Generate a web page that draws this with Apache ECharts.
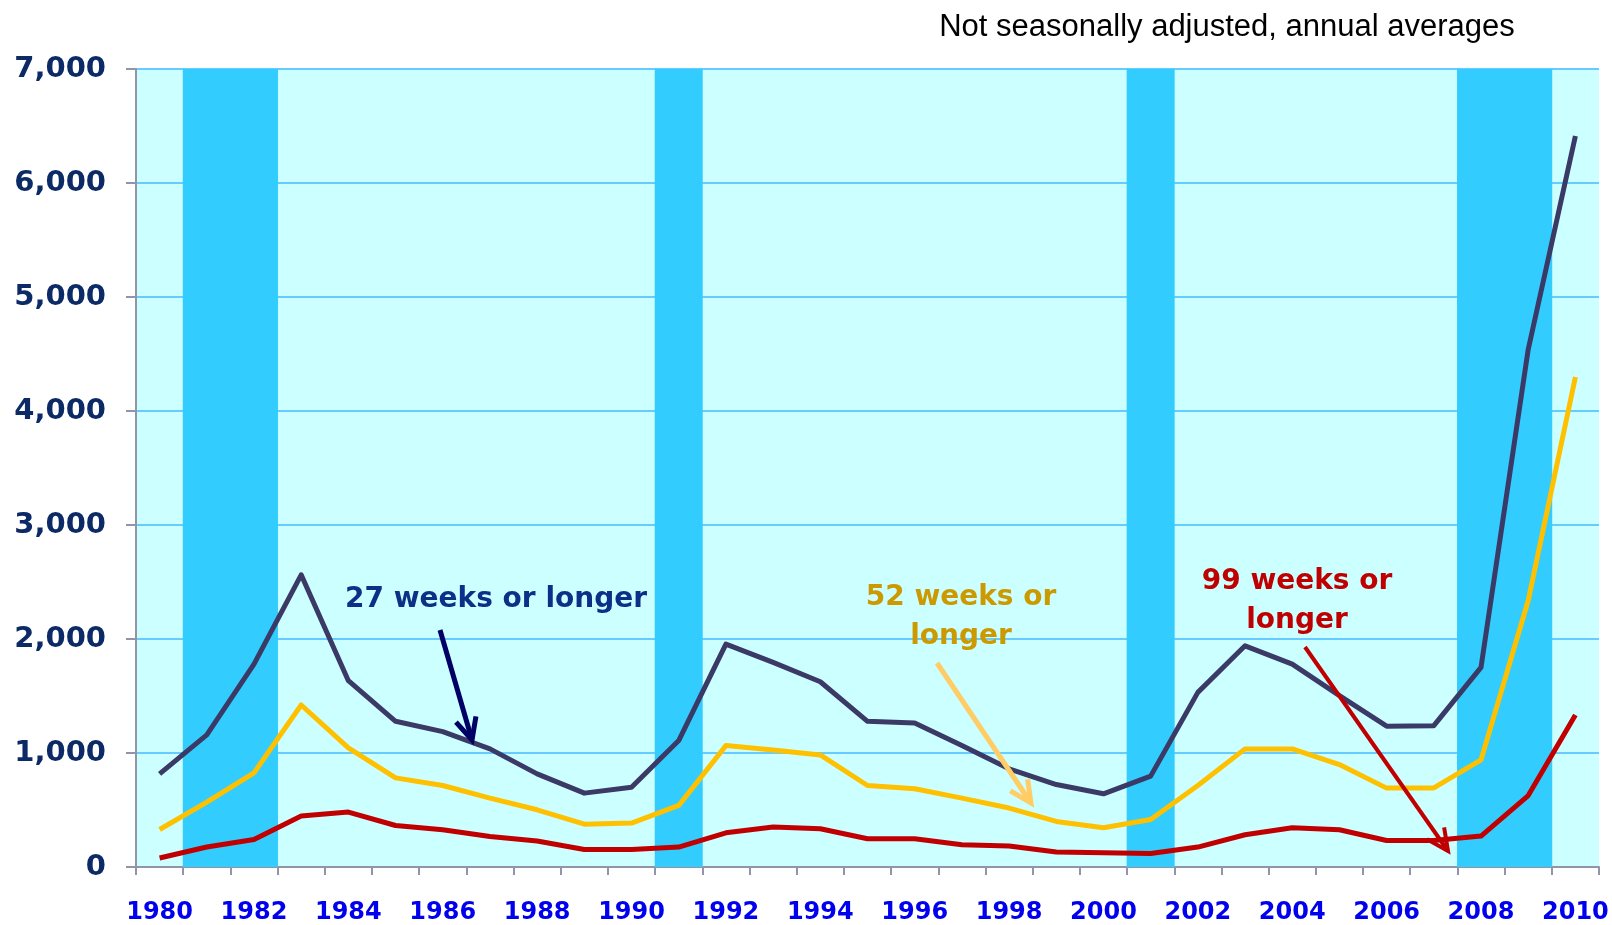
<!DOCTYPE html>
<html>
<head>
<meta charset="utf-8">
<script src="https://cdn.jsdelivr.net/npm/echarts@6/dist/echarts.min.js"></script>
<style>
  html, body { margin: 0; padding: 0; background: #ffffff; }
  #chart { width: 1612px; height: 925px; }
</style>
</head>
<body>
<div id="chart"></div>
<script>
// ---- Data ----
const years = ['1980','1981','1982','1983','1984','1985','1986','1987','1988','1989',
               '1990','1991','1992','1993','1994','1995','1996','1997','1998','1999',
               '2000','2001','2002','2003','2004','2005','2006','2007','2008','2009','2010'];

const weeks27 = [817,1159,1780,2563,1634,1278,1188,1036,817,648,
                 700,1109,1955,1795,1625,1278,1264,1065,861,723,
                 642,797,1532,1940,1780,1503,1235,1240,1751,4540,6413];

const weeks52 = [329,569,826,1421,1045,782,715,604,502,376,
                 385,540,1065,1027,983,715,686,604,517,400,
                 344,417,715,1036,1036,899,692,694,940,2338,4299];

const weeks99 = [79,175,242,447,482,364,327,268,228,154,
                 154,175,300,350,335,248,248,195,184,131,
                 125,119,175,283,344,327,233,233,271,627,1334];

const recessionYears = ['1981','1982','1991','2001','2008','2009'];

const yTickLabels = ['0','1,000','2,000','3,000','4,000','5,000','6,000','7,000'];
const yMax = 7000;

const subtitle = 'Not seasonally adjusted, annual averages';

// ---- Annotation helpers (pixel-space annotations) ----
function arrow(x1, y1, x2, y2, color, width) {
  const ang = Math.atan2(y2 - y1, x2 - x1);
  const len = 24, spread = Math.PI / 7;
  const w1 = [x2 - len * Math.cos(ang - spread), y2 - len * Math.sin(ang - spread)];
  const w2 = [x2 - len * Math.cos(ang + spread), y2 - len * Math.sin(ang + spread)];
  return [
    { type: 'line', z: 100, silent: true,
      shape: { x1: x1, y1: y1, x2: x2, y2: y2 },
      style: { stroke: color, lineWidth: width, lineCap: 'butt' } },
    { type: 'polyline', z: 100, silent: true,
      shape: { points: [w1, [x2, y2], w2] },
      style: { stroke: color, lineWidth: width, fill: null, lineJoin: 'miter', lineCap: 'butt' } }
  ];
}
function label(text, x, y, color) {
  return { type: 'text', z: 100, silent: true, x: x, y: y,
    style: { text: text, fill: color, font: 'bold 28px "DejaVu Sans"',
             textAlign: 'center', textVerticalAlign: 'middle' } };
}

const chart = echarts.init(document.getElementById('chart'), null, { renderer: 'canvas' });

const option = {
  animation: false,
  backgroundColor: '#ffffff',
  grid: {
    left: 136, right: 13, top: 69, bottom: 57,
    show: true, backgroundColor: '#ccffff', borderWidth: 0
  },
  xAxis: {
    type: 'category',
    data: years,
    boundaryGap: true,
    axisLine: { show: true, lineStyle: { color: '#9494a8', width: 2 } },
    axisTick: { show: true, interval: 0, length: 8, lineStyle: { color: '#9494a8', width: 2 } },
    axisLabel: {
      interval: 1, margin: 34,
      color: '#0000ee', fontFamily: 'DejaVu Sans', fontWeight: 'bold', fontSize: 24
    },
    splitLine: { show: false }
  },
  yAxis: {
    type: 'value',
    min: 0, max: yMax, interval: 1000,
    axisLine: { show: true, lineStyle: { color: '#9494a8', width: 2 } },
    axisTick: { show: true, length: 10, lineStyle: { color: '#9494a8', width: 2 } },
    axisLabel: {
      margin: 30, padding: [6, 0, 0, 0],
      color: '#0c2a66', fontFamily: 'DejaVu Sans', fontWeight: 'bold', fontSize: 29,
      formatter: function (v) { return yTickLabels[Math.round(v / 1000)]; }
    },
    splitLine: { show: true, lineStyle: { color: '#66ccff', width: 2 } }
  },
  series: [
    {
      name: 'Recession',
      type: 'bar',
      silent: true,
      barWidth: 48,
      itemStyle: { color: '#33ccff' },
      z: 1,
      data: years.map(function (y) { return recessionYears.indexOf(y) >= 0 ? yMax : '-'; })
    },
    {
      name: '99 weeks or longer', type: 'line', data: weeks99,
      symbol: 'none', z: 3,
      lineStyle: { color: '#c00000', width: 5, join: 'round' }
    },
    {
      name: '52 weeks or longer', type: 'line', data: weeks52,
      symbol: 'none', z: 4,
      lineStyle: { color: '#ffc000', width: 5, join: 'round' }
    },
    {
      name: '27 weeks or longer', type: 'line', data: weeks27,
      symbol: 'none', z: 5,
      lineStyle: { color: '#3b3a66', width: 5, join: 'round' }
    }
  ],
  graphic: [
    { type: 'text', z: 100, silent: true, x: 1227, y: 27,
      style: { text: subtitle, fill: '#000000', font: '31px "Liberation Sans"',
               textAlign: 'center', textVerticalAlign: 'middle' } },
    label('27 weeks or longer', 496, 600, '#0e2f87'),
    label('52 weeks or', 961, 598, '#cc9900'),
    label('longer', 961, 637, '#cc9900'),
    label('99 weeks or', 1297, 582, '#c00000'),
    label('longer', 1297, 621, '#c00000')
  ].concat(arrow(440, 630, 472, 740, '#000066', 5))
   .concat(arrow(937, 663, 1031, 803, '#ffcc66', 5))
   .concat(arrow(1305, 647, 1448, 851, '#c00000', 4))
};

chart.setOption(option);
</script>
</body>
</html>
